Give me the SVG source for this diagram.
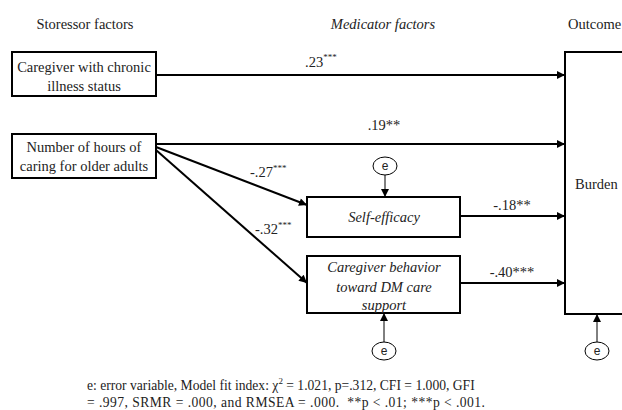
<svg xmlns="http://www.w3.org/2000/svg" width="622" height="410" viewBox="0 0 622 410" font-family="'Liberation Serif', 'Times New Roman', Times, serif">
<defs>
<style>
.t{font-size:14.5px;fill:#222;}
.c{text-anchor:middle;}
.i{font-style:italic;}
.box{fill:#fff;stroke:#000;stroke-width:2;}
.ln{fill:none;stroke:#000;stroke-width:2;}
.thin{fill:none;stroke:#000;stroke-width:1;}
.err{fill:#fff;stroke:#000;stroke-width:1;}
.e{font-size:12px;text-anchor:middle;fill:#222;}
.sup{font-size:9px;}
.cap{font-size:13.6px;fill:#222;}
</style>
<marker id="ah" viewBox="0 0 10 10" refX="10" refY="5" markerWidth="9" markerHeight="8" markerUnits="userSpaceOnUse" orient="auto">
<path d="M0,0 L10,5 L0,10 z" fill="#000"/>
</marker>
</defs>
<rect width="622" height="410" fill="#fff"/>

<g id="headers">
<text class="t c" x="85" y="29">Storessor factors</text>
<text class="t c i" x="383" y="29">Medicator factors</text>
<text class="t" x="568" y="29">Outcome</text>
</g>

<g id="connectors">
<line class="ln" x1="156" y1="75" x2="565" y2="75" marker-end="url(#ah)"/>
<line class="ln" x1="156" y1="144" x2="565" y2="144" marker-end="url(#ah)"/>
<line class="ln" x1="156" y1="147" x2="307" y2="205" marker-end="url(#ah)"/>
<line class="ln" x1="156" y1="150" x2="307" y2="283" marker-end="url(#ah)"/>
<line class="ln" x1="460" y1="216" x2="565" y2="216" marker-end="url(#ah)"/>
<line class="ln" x1="460" y1="283" x2="565" y2="283" marker-end="url(#ah)"/>
<line class="thin" x1="385" y1="175" x2="385" y2="197" marker-end="url(#ah)"/>
<line class="thin" x1="384" y1="342" x2="384" y2="313" marker-end="url(#ah)"/>
<line class="thin" x1="597" y1="342" x2="597" y2="314" marker-end="url(#ah)"/>
<text class="t" x="305" y="67">.23<tspan class="sup" dy="-7">***</tspan></text>
<text class="t c" x="384" y="130">.19**</text>
<text class="t" x="250" y="177">-.27<tspan class="sup" dy="-6">***</tspan></text>
<text class="t" x="255" y="234">-.32<tspan class="sup" dy="-6">***</tspan></text>
<text class="t c" x="512" y="210">-.18**</text>
<text class="t c" x="512" y="277">-.40***</text>
</g>

<g id="node-chronic">
<rect class="box" x="12" y="52" width="144" height="44"/>
<text class="t c" x="84" y="72">Caregiver with chronic</text>
<text class="t c" x="84" y="91">illness status</text>
</g>

<g id="node-hours">
<rect class="box" x="12" y="134" width="144" height="44"/>
<text class="t c" x="84" y="152">Number of hours of</text>
<text class="t c" x="84" y="171">caring for older adults</text>
</g>

<g id="node-selfefficacy">
<rect class="box" x="307" y="197" width="153" height="40"/>
<text class="t c i" x="384" y="222">Self-efficacy</text>
</g>

<g id="node-behavior">
<rect class="box" x="307" y="256" width="153" height="57"/>
<text class="t c i" x="384" y="272">Caregiver behavior</text>
<text class="t c i" x="384" y="292">toward DM care</text>
<text class="t c i" x="384" y="310">support</text>
</g>

<g id="node-burden">
<rect class="box" x="565" y="52" width="70" height="262"/>
<text class="t" x="575" y="189">Burden</text>
</g>

<g id="error-1">
<ellipse class="err" cx="385" cy="166" rx="12" ry="9"/>
<text class="e" x="385" y="170" font-family="'Liberation Sans', Arial, sans-serif">e</text>
</g>
<g id="error-2">
<ellipse class="err" cx="384" cy="351" rx="12" ry="9"/>
<text class="e" x="384" y="355" font-family="'Liberation Sans', Arial, sans-serif">e</text>
</g>
<g id="error-3">
<ellipse class="err" cx="597" cy="351" rx="12" ry="9"/>
<text class="e" x="597" y="355" font-family="'Liberation Sans', Arial, sans-serif">e</text>
</g>

<g id="caption">
<text class="cap" x="87" y="390">e: error variable, Model fit index: χ<tspan class="sup" dy="-6">2</tspan><tspan dy="6"> = 1.021, p=.312, CFI = 1.000, GFI</tspan></text>
<text class="cap" x="87" y="407" textLength="398" lengthAdjust="spacing">= .997, SRMR = .000, and RMSEA = .000.&#160; **p &lt; .01; ***p &lt; .001.</text>
</g>
</svg>
